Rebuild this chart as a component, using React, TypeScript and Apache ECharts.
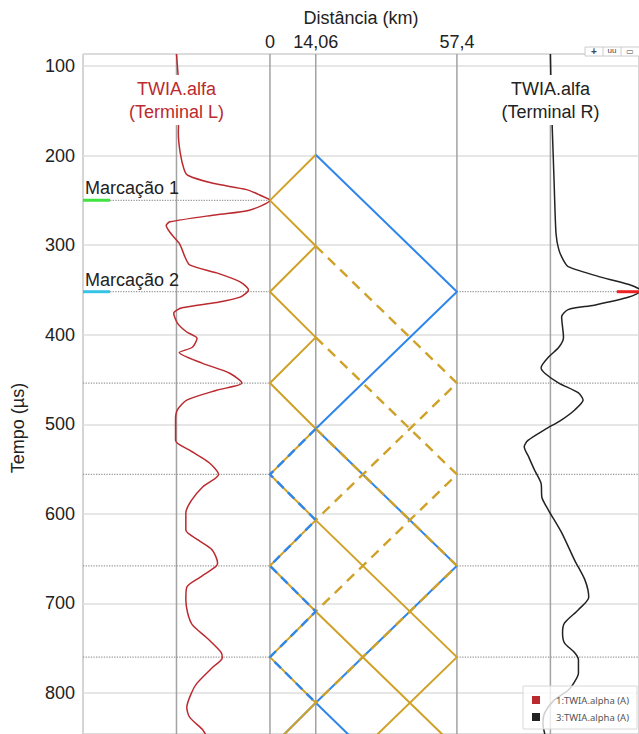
import React, { useEffect, useRef } from "react";
import * as echarts from "echarts";

// Line geometry (km)
const LINE_KM = 57.4;
const FAULT_KM = 14.06;
const DIST_TICKS = [0, FAULT_KM, LINE_KM];

// Visible window
const T_MIN = 86.6;
const T_MAX = 845.8;
const X_MIN = -LINE_KM;
const X_MAX = 113.3;

// Where the two recorded waveforms are drawn (km) and how wide a unit amplitude is
const TRACE_L_KM = -LINE_KM / 2;
const TRACE_R_KM = 1.5 * LINE_KM;
const AMP_KM = LINE_KM / 2;
const GUIDE_LINES_KM = [TRACE_L_KM, 0, FAULT_KM, LINE_KM, TRACE_R_KM];

// Terminal L waveform: [time µs, normalised amplitude]
const traceL: [number, number][] = [
  [86.6, 0.0], [138, 0.03], [175, 0.02], [197, 0.04], [215, 0.08], [222, 0.12],
  [231, 0.39], [238, 0.75], [244, 0.89], [250, 1.0], [261, 0.78], [266, 0.43],
  [274, -0.07], [278, -0.11], [287, -0.06], [298, 0.03], [305, 0.06], [313, 0.09],
  [322, 0.14], [331, 0.43], [341, 0.68], [350, 0.77], [358, 0.68], [364, 0.43],
  [370, 0.06], [376, -0.03], [387, 0.01], [397, 0.11], [404, 0.22], [414, 0.17],
  [420, 0.03], [432, 0.28], [443, 0.57], [454, 0.7], [462, 0.43], [473, 0.11],
  [484, 0.01], [495, -0.01], [518, -0.01], [529, 0.14], [543, 0.35], [556, 0.45],
  [570, 0.28], [585, 0.16], [599, 0.1], [618, 0.1], [629, 0.23], [640, 0.38],
  [655, 0.44], [659, 0.42], [671, 0.25], [682, 0.11], [696, 0.1], [711, 0.12],
  [724, 0.17], [738, 0.32], [755, 0.48], [761, 0.49], [771, 0.39], [789, 0.22],
  [800, 0.16], [816, 0.11], [827, 0.14], [841, 0.28], [846, 0.31],
];

// Terminal R waveform: [time µs, normalised amplitude]
const traceR: [number, number][] = [
  [86.6, 0.0], [138, 0.01], [200, 0.03], [231, 0.04], [287, 0.06], [305, 0.09],
  [317, 0.14], [324, 0.19], [336, 0.55], [345, 0.87], [351, 0.97], [358, 0.84],
  [367, 0.47], [372, 0.19], [380, 0.12], [403, 0.14], [414, 0.09], [425, -0.02],
  [437, -0.1], [443, -0.06], [454, 0.09], [465, 0.3], [473, 0.35], [484, 0.26],
  [495, 0.12], [506, -0.06], [518, -0.24], [525, -0.28], [537, -0.23], [551, -0.17],
  [566, -0.1], [582, -0.09], [596, -0.02], [621, 0.12], [652, 0.26], [674, 0.37],
  [693, 0.41], [707, 0.3], [722, 0.15], [733, 0.13], [744, 0.15], [755, 0.26],
  [763, 0.3], [778, 0.3], [789, 0.25], [797, 0.19], [808, 0.04], [822, -0.06],
  [834, -0.08], [846, -0.06],
];

// Lattice paths: [km, µs]
const goldBounceLeft: [number, number][] = [
  [FAULT_KM, 199], [0, 250], [FAULT_KM, 301], [0, 352], [FAULT_KM, 403], [0, 454],
  [FAULT_KM, 505], [0, 556], [FAULT_KM, 607], [0, 658], [FAULT_KM, 709], [0, 760],
  [FAULT_KM, 811], [0, 862],
];
const blueBounceLeft: [number, number][] = [
  [FAULT_KM, 505], [0, 556], [FAULT_KM, 607], [0, 658], [FAULT_KM, 709], [0, 760],
  [FAULT_KM, 811],
];
const blueRight: [number, number][] = [
  [FAULT_KM, 199], [LINE_KM, 352], [FAULT_KM, 505], [LINE_KM, 658], [FAULT_KM, 811],
  [LINE_KM, 964],
];
const blueLeftLate: [number, number][] = [[FAULT_KM, 811], [0, 862]];
const goldTransmitted: [number, number][][] = [
  [[FAULT_KM, 301], [LINE_KM, 454], [FAULT_KM, 607]],
  [[FAULT_KM, 403], [LINE_KM, 556], [FAULT_KM, 709]],
  [[FAULT_KM, 505], [LINE_KM, 658], [FAULT_KM, 811]],
];
const goldRightLate: [number, number][][] = [
  [[FAULT_KM, 607], [LINE_KM, 760], [FAULT_KM, 913]],
  [[FAULT_KM, 709], [LINE_KM, 862]],
];

// Cursors and arrival guides (µs)
const markers = [
  { label: "Marcação 1", t: 250, color: "#3fe23f" },
  { label: "Marcação 2", t: 352, color: "#35c4e6" },
];
const leftArrivals = [454, 556, 658, 760];
const rightArrivals = [352, 454, 556, 658, 760];
const rightCursorT = 352;
const TAB_KM = 8.3;

const legendNames = ["1:TWIA.alpha (A)", "3:TWIA.alpha (A)"];

const FONT = '"Liberation Sans", Arial, sans-serif';
const RED = "#bb2a2f";
const DARK = "#222222";
const GOLD = "#d0a127";
const BLUE = "#2f86ea";
const GUIDE = "#a3a3a3";

function path(data: [number, number][], color: string, width: number, type: any, z: number, name?: string) {
  return {
    type: "line",
    name,
    data,
    symbol: "none",
    showSymbol: false,
    silent: true,
    z,
    itemStyle: { color },
    lineStyle: { color, width, type },
    animation: false,
  };
}

export default function App() {
  const ref = useRef<HTMLDivElement>(null);

  useEffect(() => {
    if (!ref.current) return;
    const chart = echarts.init(ref.current, undefined, { renderer: "svg" });

    const series: any[] = [];

    GUIDE_LINES_KM.forEach((km) =>
      series.push(path([[km, T_MIN], [km, T_MAX]], GUIDE, 1.5, "solid", 1))
    );
    markers.forEach((m) => {
      series.push(path([[X_MIN + TAB_KM, m.t], [0, m.t]], "#9a9a9a", 1.3, "dotted", 1));
      series.push(path([[X_MIN, m.t], [X_MIN + TAB_KM, m.t]], m.color, 3, "solid", 6));
    });
    leftArrivals.forEach((t) =>
      series.push(path([[X_MIN, t], [0, t]], "#9a9a9a", 1.3, "dotted", 1))
    );
    rightArrivals.forEach((t) =>
      series.push(path([[LINE_KM, t], [X_MAX, t]], "#9a9a9a", 1.3, "dotted", 1))
    );

    const leftWave = traceL.map(([t, a]) => [TRACE_L_KM + a * AMP_KM, t]);
    const rightWave = traceR.map(([t, a]) => [TRACE_R_KM + a * AMP_KM, t]);
    series.push({ ...path(leftWave as any, RED, 1.5, "solid", 3, legendNames[0]), smooth: 0.25 });
    series.push({ ...path(rightWave as any, DARK, 1.5, "solid", 3, legendNames[1]), smooth: 0.25 });

    series.push(path([[X_MAX - TAB_KM + 1.5, rightCursorT], [X_MAX, rightCursorT]], "#ee2222", 3, "solid", 6));

    series.push(path(blueRight, BLUE, 2, "solid", 4));
    series.push(path(blueLeftLate, BLUE, 2, "solid", 4));
    series.push(path(goldBounceLeft, GOLD, 2, "solid", 4));
    goldRightLate.forEach((p) => series.push(path(p, GOLD, 2, "solid", 4)));
    goldTransmitted.forEach((p) => series.push(path(p, GOLD, 2.4, [10, 7], 5)));
    series.push(path(blueBounceLeft, BLUE, 2.4, [9, 6], 6));

    chart.setOption({
      animation: false,
      backgroundColor: "#ffffff",
      grid: {
        left: 83,
        top: 54,
        right: 0,
        bottom: 0,
        show: true,
        borderColor: "#aaaaaa",
        borderWidth: 1,
        containLabel: false,
      },
      xAxis: {
        type: "value",
        position: "top",
        min: X_MIN,
        max: X_MAX,
        name: "Distância (km)",
        nameLocation: "middle",
        nameGap: 27,
        nameTextStyle: { fontSize: 18, color: DARK, fontFamily: FONT },
        axisLine: { show: false },
        axisTick: { show: false },
        splitLine: { show: false },
        axisLabel: {
          customValues: DIST_TICKS,
          formatter: (v: number) => String(v).replace(".", ","),
          fontSize: 18,
          color: DARK,
          fontFamily: FONT,
          margin: 3,
        },
      },
      yAxis: {
        type: "value",
        inverse: true,
        min: T_MIN,
        max: T_MAX,
        minInterval: 100,
        maxInterval: 100,
        splitNumber: 8,
        axisLine: { show: false },
        axisTick: { show: false },
        splitLine: { show: true, lineStyle: { color: "#dedede", width: 1.5 } },
        axisLabel: {
          showMinLabel: false,
          showMaxLabel: false,
          fontSize: 18,
          color: DARK,
          fontFamily: FONT,
          margin: 8,
        },
      },
      legend: {
        data: legendNames.map((n) => ({ name: n, icon: "rect" })),
        orient: "vertical",
        left: 523,
        top: 686,
        itemWidth: 8,
        itemHeight: 8,
        itemGap: 5,
        padding: [8, 8, 6, 9],
        backgroundColor: "rgba(255,255,255,0.78)",
        borderColor: "#d8d8d8",
        borderWidth: 1,
        selectedMode: false,
        textStyle: {
          fontSize: 9.5,
          lineHeight: 12,
          color: "#555",
          fontFamily: '"Noto Sans", sans-serif',
          padding: [0, 0, 0, 11],
        },
      },
      series,
    });

    const px = (km: number, t: number) =>
      chart.convertToPixel({ xAxisIndex: 0, yAxisIndex: 0 }, [km, t]) as number[];

    const labelL = px(TRACE_L_KM, 138);
    const labelR = px(TRACE_R_KM, 138);
    const terminalLabel = (p: number[], text: string, fill: string) => ({
      type: "text",
      x: p[0],
      y: p[1],
      z: 20,
      style: {
        text,
        fill,
        fontSize: 18,
        fontFamily: FONT,
        lineHeight: 23,
        align: "center",
        verticalAlign: "middle",
        backgroundColor: "#ffffff",
        padding: [2, 3],
      },
    });
    const graphic: any[] = [
      terminalLabel(labelL, "TWIA.alfa\n(Terminal L)", RED),
      terminalLabel(labelR, "TWIA.alfa\n(Terminal R)", DARK),
      {
        type: "text",
        x: 18,
        y: 428,
        rotation: Math.PI / 2,
        style: {
          text: "Tempo (µs)",
          fill: DARK,
          fontSize: 18,
          fontFamily: FONT,
          align: "center",
          verticalAlign: "middle",
        },
      },
      {
        type: "group",
        x: 585,
        y: 47,
        z: 20,
        children: [
          { type: "rect", shape: { x: 0, y: 0, width: 56, height: 9 }, style: { fill: "#fff", stroke: "#cccccc", lineWidth: 1 } },
          { type: "line", shape: { x1: 18, y1: 0, x2: 18, y2: 9 }, style: { stroke: "#cccccc" } },
          { type: "line", shape: { x1: 36, y1: 0, x2: 36, y2: 9 }, style: { stroke: "#cccccc" } },
          { type: "text", x: 9, y: 4, style: { text: "+", fontSize: 10, fontWeight: "bold", fill: "#444", align: "center", verticalAlign: "middle" } },
          { type: "text", x: 27, y: 3, style: { text: "uu", fontSize: 8, fill: "#444", align: "center", verticalAlign: "middle" } },
          { type: "text", x: 45, y: 4, style: { text: "▭", fontSize: 8, fill: "#444", align: "center", verticalAlign: "middle" } },
        ],
      },
    ];
    markers.forEach((m) => {
      const p = px(X_MIN, m.t);
      graphic.push({
        type: "text",
        x: p[0] + 2,
        y: p[1] - 12,
        z: 20,
        style: { text: m.label, fill: DARK, fontSize: 18, fontFamily: FONT, align: "left", verticalAlign: "middle" },
      });
    });
    chart.setOption({ graphic });

    return () => chart.dispose();
  }, []);

  return (
    <div
      ref={ref}
      style={{ position: "absolute", left: 0, top: 0, width: 639, height: 734, background: "#fff" }}
    />
  );
}
